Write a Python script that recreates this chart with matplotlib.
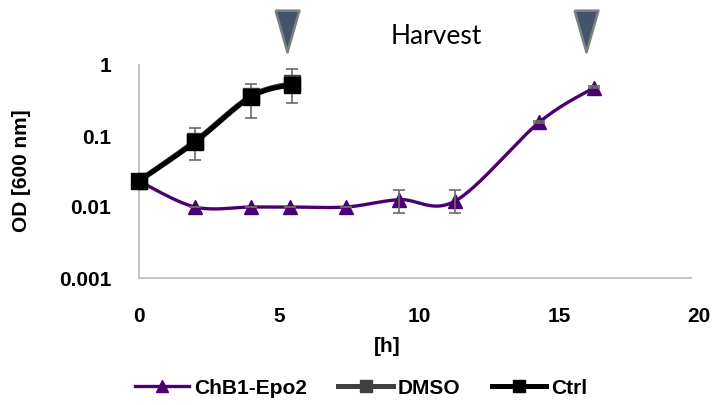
import numpy as np
import matplotlib
matplotlib.use("Agg")
import matplotlib.pyplot as plt
from matplotlib.lines import Line2D
from matplotlib.transforms import blended_transform_factory

# ---- data ----
epo_x = [0, 2, 4, 5.4, 7.4, 9.3, 11.3, 14.3, 16.25]
epo_y = [0.0232, 0.0100, 0.0100, 0.0100, 0.0100, 0.0127, 0.0122, 0.157, 0.48]
epo_lo = [0.0232, 0.0100, 0.0100, 0.0100, 0.0100, 0.0083, 0.0083, 0.150, 0.47]
epo_hi = [0.0232, 0.0100, 0.0100, 0.0100, 0.0100, 0.0175, 0.0175, 0.165, 0.50]

dmso_x = [0, 2, 4, 5.45]
dmso_y = [0.0235, 0.085, 0.365, 0.55]

ctrl_x = [0, 2, 4, 5.45]
ctrl_y = [0.0232, 0.082, 0.355, 0.53]
ctrl_lo = [0.0232, 0.046, 0.18, 0.29]
ctrl_hi = [0.0232, 0.13, 0.54, 0.88]

harvest_times = [5.3, 15.96]

x_ticks = [0, 5, 10, 15, 20]
y_ticks = [0.001, 0.01, 0.1, 1]
y_ticklabels = ["0.001", "0.01", "0.1", "1"]

PURPLE = "#4b0072"
DMSO_C = "#404040"
CTRL_C = "#000000"


def smooth(xs, ys, n=30):
    """Catmull-Rom smoothing in (x, log10 y) space, like Excel smoothed lines."""
    P = np.column_stack([xs, np.log10(ys)])
    pts = np.vstack([P[0], P, P[-1]])
    out = []
    for i in range(1, len(pts) - 2):
        p0, p1, p2, p3 = pts[i - 1], pts[i], pts[i + 1], pts[i + 2]
        t = np.linspace(0, 1, n)[:, None]
        c = 0.5 * ((2 * p1) + (-p0 + p2) * t + (2 * p0 - 5 * p1 + 4 * p2 - p3) * t ** 2
                   + (-p0 + 3 * p1 - 3 * p2 + p3) * t ** 3)
        out.append(c if i == 1 else c[1:])
    c = np.vstack(out)
    return c[:, 0], 10 ** c[:, 1]


plt.rcParams['font.family'] = ['Liberation Sans', 'DejaVu Sans']
fig = plt.figure(figsize=(7.18, 4.05), dpi=100)
W, H = 718, 405
ax = fig.add_axes([139 / W, 1 - 278 / H, 560 / W, 213 / H])
ax.set_yscale('log')
ax.set_xlim(0, 20)
ax.set_ylim(0.001, 1)

# error bars
ax.errorbar(epo_x, epo_y,
            yerr=[np.array(epo_y) - np.array(epo_lo), np.array(epo_hi) - np.array(epo_y)],
            fmt='none', ecolor='#6a6a6a', elinewidth=1.2, capsize=4, capthick=1.2, zorder=5)
ax.errorbar(ctrl_x, ctrl_y,
            yerr=[np.array(ctrl_y) - np.array(ctrl_lo), np.array(ctrl_hi) - np.array(ctrl_y)],
            fmt='none', ecolor='#6a6a6a', elinewidth=1.2, capsize=4, capthick=1.2, zorder=2)

sx, sy = smooth(epo_x, epo_y)
ax.plot(sx, sy, color=PURPLE, lw=2.4, zorder=3, solid_capstyle='round')
ax.plot(epo_x, epo_y, ls='none', marker='^', ms=10, color=PURPLE, zorder=4)

sx, sy = smooth(dmso_x, dmso_y)
ax.plot(sx, sy, color=DMSO_C, lw=3.6, zorder=6)
ax.plot(dmso_x, dmso_y, ls='none', marker='s', ms=12, color=DMSO_C, zorder=6)

sx, sy = smooth(ctrl_x, ctrl_y)
ax.plot(sx, sy, color=CTRL_C, lw=3.6, zorder=7)
ax.plot(ctrl_x, ctrl_y, ls='none', marker='s', ms=12, color=CTRL_C, zorder=7, clip_on=False)

# axes styling
for s in ['top', 'right']:
    ax.spines[s].set_visible(False)
for s in ['left', 'bottom']:
    ax.spines[s].set_color('#bfbfbf')
    ax.spines[s].set_linewidth(1.3)
ax.spines['bottom'].set_bounds(0, 19.72)
ax.set_xticks(x_ticks)
ax.set_xticklabels([str(v) for v in x_ticks])
ax.set_yticks(y_ticks)
ax.set_yticklabels(y_ticklabels)
ax.yaxis.set_minor_locator(matplotlib.ticker.NullLocator())
ax.tick_params(axis='both', length=0, labelsize=15)
ax.tick_params(axis='x', pad=21)
ax.tick_params(axis='y', pad=20)
for lab in ax.get_xticklabels() + ax.get_yticklabels():
    lab.set_fontweight('bold')

fig.text(22 / W, 1 - 171 / H, "OD [600 nm]", rotation=90, ha='center', va='center',
         fontsize=15, fontweight='bold')
fig.text(387 / W, 1 - 346 / H, "[h]", ha='center', va='center', fontsize=15, fontweight='bold')

# Harvest annotation
fig.text(436 / W, 1 - 37 / H, "Harvest", ha='center', va='center', fontsize=19,
         family=['Lato', 'DejaVu Sans'])
tri = [(-12, 21), (12, 21), (0, -21), (-12, 21)]
tr = blended_transform_factory(ax.transData, fig.transFigure)
for t in harvest_times:
    ax.plot([t], [1 - 31 / H], transform=tr, marker=tri, ms=30, color='#44546a',
            markeredgecolor='#7f7f7f', markeredgewidth=1.8, clip_on=False, ls='none')

# legend
handles = [
    Line2D([], [], color=PURPLE, lw=2.4, marker='^', ms=9),
    Line2D([], [], color=DMSO_C, lw=3.6, marker='s', ms=9),
    Line2D([], [], color=CTRL_C, lw=3.6, marker='s', ms=9),
]
leg = fig.legend(handles, ["ChB1-Epo2", "DMSO", "Ctrl"], loc='center',
                 bbox_to_anchor=(361 / W, 1 - 388 / H), ncol=3, frameon=False,
                 handlelength=2.6, handletextpad=0.25, columnspacing=1.5,
                 prop={'size': 15, 'weight': 'bold'})

fig.savefig("out.png", dpi=100)
